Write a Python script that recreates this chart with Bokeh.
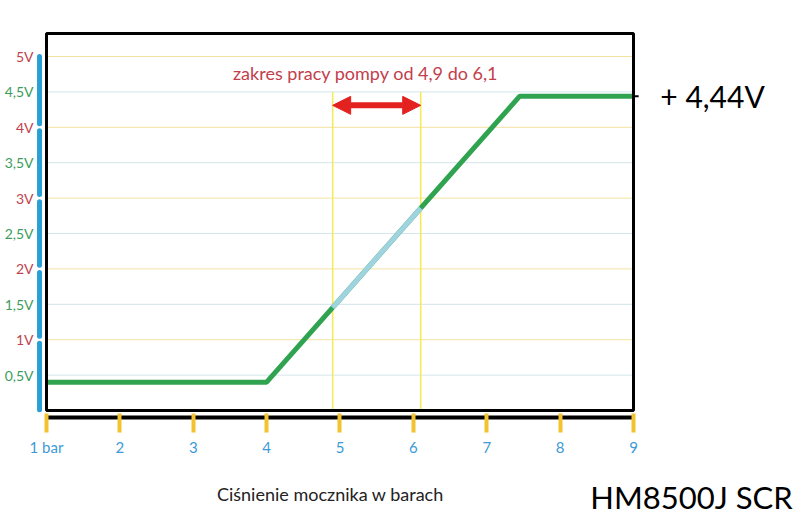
import numpy as np
from bokeh.core.properties import value
from bokeh.embed import file_html
from bokeh.models import Arrow, FixedTicker, LinearAxis, NormalHead, Range1d
from bokeh.plotting import figure
from bokeh.resources import INLINE

# sensor characteristic: pressure [bar] -> output [V]
pressure = [1, 4, 7.45, 9]
voltage = [0.4, 0.4, 4.44, 4.44]

# pump working range
pump_range = [4.9, 6.1]

bar_ticks = [1, 2, 3, 4, 5, 6, 7, 8, 9]
bar_labels = ["1 bar", "2", "3", "4", "5", "6", "7", "8", "9"]

volt_whole = [1, 2, 3, 4, 5]
volt_whole_labels = ["1V", "2V", "3V", "4V", "5V"]
volt_half = [0.5, 1.5, 2.5, 3.5, 4.5]
volt_half_labels = ["0,5V", "1,5V", "2,5V", "3,5V", "4,5V"]

range_text = "zakres pracy pompy od 4,9 do 6,1"
x_title = "Ciśnienie mocznika w barach"
model_text = "HM8500J SCR"
max_text = "+ " + ("%.2f" % voltage[-1]).replace(".", ",") + "V"

FONT = "Lato"
TOP_V = 5.325      # top edge of the box
BAR_X = 0.905      # blue scale bar left of the box
AXIS_Y = -0.095    # black pressure axis under the box

p = figure(width=800, height=517,
           x_range=Range1d(0.3731, 11.276), y_range=Range1d(-1.511, 5.791),
           x_axis_location=None, y_axis_location=None,
           toolbar_location=None, output_backend="svg", min_border=0)
p.outline_line_color = None
p.grid.grid_line_color = None

# grid lines inside the box
p.segment(x0=1, x1=9, y0=volt_whole, y1=volt_whole, line_color="#f3e2a0", line_width=1)
p.segment(x0=1, x1=9, y0=volt_half, y1=volt_half, line_color="#d3e5ea", line_width=1)

# working range markers
p.segment(x0=pump_range, x1=pump_range, y0=0, y1=4.5, line_color="#f6ea50", line_width=1.5)

p.line(pressure, voltage, line_color="#2fa350", line_width=5)
p.line(pump_range, list(np.interp(pump_range, pressure, voltage)),
       line_color="#9fd3df", line_width=5)

p.quad(left=1, right=9, bottom=0, top=TOP_V, fill_color=None,
       line_color="black", line_width=3)
# little pointer towards the max value text
p.segment(x0=9, x1=9.07, y0=voltage[-1], y1=voltage[-1], line_color="black", line_width=2)

# blue voltage scale bar, split at every whole volt
gap = 0.05
bar_lo = [0.01] + [v + gap for v in volt_whole[:-1]]
bar_hi = [v - gap for v in volt_whole[:-1]] + [volt_whole[-1]]
p.segment(x0=BAR_X, x1=BAR_X, y0=bar_lo, y1=bar_hi, line_color="#2a9fd6",
          line_width=5, line_cap="round")

p.add_layout(Arrow(start=NormalHead(size=18, fill_color="#e3211f", line_color="#e3211f"),
                   end=NormalHead(size=18, fill_color="#e3211f", line_color="#e3211f"),
                   x_start=pump_range[0], y_start=4.31, x_end=pump_range[1], y_end=4.31,
                   line_color="#e3211f", line_width=6))


def volt_axis(ticks, labels, color):
    ax = LinearAxis(fixed_location=BAR_X, ticker=FixedTicker(ticks=ticks))
    ax.major_label_overrides = dict(zip(ticks, labels))
    ax.axis_line_color = None
    ax.major_tick_line_color = None
    ax.minor_tick_line_color = None
    ax.major_tick_in = 0
    ax.major_tick_out = 0
    ax.major_label_standoff = 6
    ax.major_label_text_color = color
    ax.major_label_text_font = FONT
    ax.major_label_text_font_size = "14px"
    p.add_layout(ax, "left")


volt_axis(volt_whole, volt_whole_labels, "#c0424f")
volt_axis(volt_half, volt_half_labels, "#3d9c5c")

xax = LinearAxis(fixed_location=AXIS_Y, bounds=(1, 9), ticker=FixedTicker(ticks=bar_ticks))
xax.major_label_overrides = dict(zip(bar_ticks, bar_labels))
xax.axis_line_color = "black"
xax.axis_line_width = 4
xax.major_tick_line_color = "#f2c230"
xax.major_tick_line_width = 4
xax.major_tick_in = 4
xax.major_tick_out = 15
xax.minor_tick_line_color = None
xax.major_label_standoff = 6
xax.major_label_text_color = "#3d9ad6"
xax.major_label_text_font = FONT
xax.major_label_text_font_size = "15px"
p.add_layout(xax, "below")

p.text(x=[5.35], y=[4.76], text=[range_text], text_align="center", text_baseline="middle",
       text_font=value(FONT), text_font_size="18px", text_color="#c2404b")
p.text(x=[10.077], y=[4.44], text=[max_text], text_align="center", text_baseline="middle",
       text_font=value(FONT), text_font_size="30px", text_color="black")
p.text(x=[4.87], y=[-1.186], text=[x_title], text_align="center", text_baseline="middle",
       text_font=value(FONT), text_font_size="18px", text_color="#222222")
p.text(x=[9.79], y=[-1.222], text=[model_text], text_align="center", text_baseline="middle",
       text_font=value(FONT), text_font_size="31px", text_color="black")

open("out.html", "w").write(file_html(p, INLINE))
